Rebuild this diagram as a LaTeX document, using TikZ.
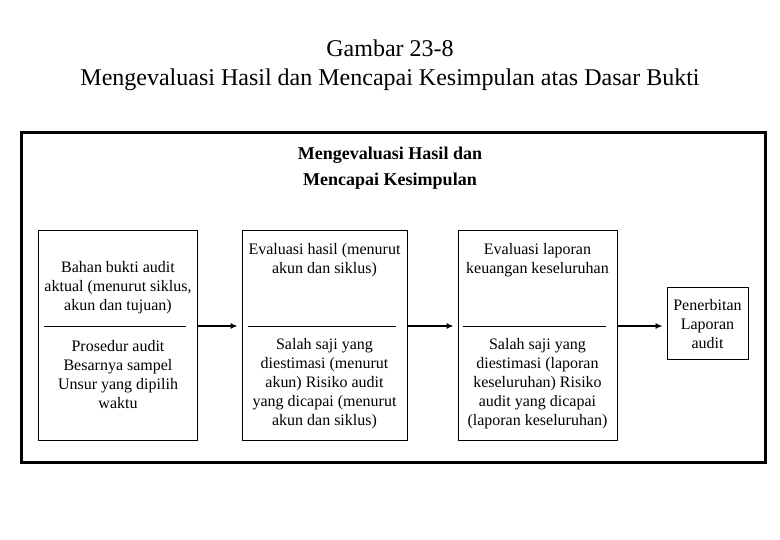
\documentclass[tikz,border=0pt]{standalone}
\usepackage{fontspec}
\setmainfont{Liberation Serif}
\usetikzlibrary{arrows.meta}
\tikzset{
  box/.style={draw, line width=0.8pt, inner sep=0pt},
  txt/.style={align=center, font=\fontsize{16}{19}\selectfont, inner sep=0pt},
  divider/.style={line width=0.8pt},
  arr/.style={line width=2pt, -{Latex[length=7pt,width=6pt]}, shorten >=4pt},
  frame/.style={draw, line width=3pt}
}
\begin{document}
\begin{tikzpicture}[x=1pt,y=-1pt]
\useasboundingbox (0,0) rectangle (780,540);
% title
\node[font=\fontsize{24}{29}\selectfont, align=center, inner sep=0pt] (title) at (390,65) {Gambar 23-8\\Mengevaluasi Hasil dan Mencapai Kesimpulan atas Dasar Bukti};
% frame
\node[frame, minimum width=744pt, minimum height=329pt, inner sep=0pt] (frame) at (393,297.5) {};
\node[font=\bfseries\fontsize{18}{26}\selectfont, align=center, inner sep=0pt] (head) at (390,168) {Mengevaluasi Hasil dan\\Mencapai Kesimpulan};
% boxes
\node[box, minimum width=159pt, minimum height=210pt] (b1) at (118,335) {};
\node[box, minimum width=165pt, minimum height=210pt] (b2) at (324.5,335) {};
\node[box, minimum width=159pt, minimum height=210pt] (b3) at (537.5,335) {};
\node[box, minimum width=81pt, minimum height=72pt] (b4) at (707.5,323) {};
% dividers
\coordinate (d1a) at (44,326); \coordinate (d1b) at (186,326);
\coordinate (d2a) at (248,326); \coordinate (d2b) at (396,326);
\coordinate (d3a) at (463,326); \coordinate (d3b) at (606,326);
\draw[divider] (d1a) -- (d1b);
\draw[divider] (d2a) -- (d2b);
\draw[divider] (d3a) -- (d3b);
% texts
\node[txt] (t1a) at (118,288) {Bahan bukti audit\\aktual (menurut siklus,\\akun dan tujuan)};
\node[txt] (t1b) at (118,375) {Prosedur audit\\Besarnya sampel\\Unsur yang dipilih\\waktu};
\node[txt] (t2a) at (324.5,260) {Evaluasi hasil (menurut\\akun dan siklus)};
\node[txt] (t2b) at (324.5,384) {Salah saji yang\\diestimasi (menurut\\akun) Risiko audit\\yang dicapai (menurut\\akun dan siklus)};
\node[txt] (t3a) at (537.5,260) {Evaluasi laporan\\keuangan keseluruhan};
\node[txt] (t3b) at (537.5,384) {Salah saji yang\\diestimasi (laporan\\keseluruhan) Risiko\\audit yang dicapai\\(laporan keseluruhan)};
\node[txt] (t4) at (707.5,324) {Penerbitan\\Laporan\\audit};
% arrows
\draw[arr] (b1.east |- d1a) -- (b2.west |- d1a);
\draw[arr] (b2.east |- d1a) -- (b3.west |- d1a);
\draw[arr] (b3.east |- d1a) -- (b4.west |- d1a);
\end{tikzpicture}
\end{document}
